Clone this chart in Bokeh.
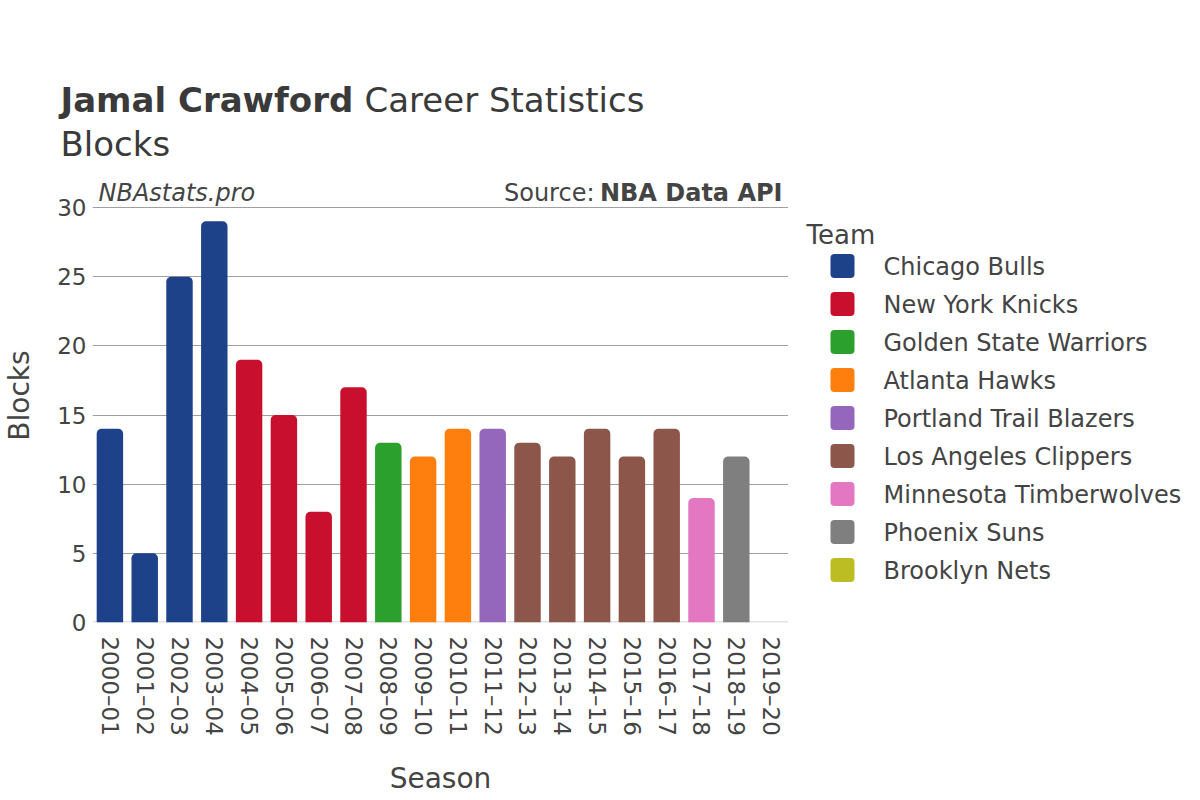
from bokeh.plotting import figure
from bokeh.models import Label, Span, FixedTicker, Range1d
from bokeh.layouts import column, row
from bokeh.core.properties import value
from bokeh.embed import file_html
from bokeh.resources import INLINE

seasons = ["2000–01", "2001–02", "2002–03", "2003–04", "2004–05", "2005–06", "2006–07",
           "2007–08", "2008–09", "2009–10", "2010–11", "2011–12", "2012–13", "2013–14",
           "2014–15", "2015–16", "2016–17", "2017–18", "2018–19", "2019–20"]
blocks = [14, 5, 25, 29, 19, 15, 8, 17, 13, 12, 14, 14, 13, 12, 14, 12, 14, 9, 12, 0]
season_team = ["Chicago Bulls"] * 4 + ["New York Knicks"] * 4 + ["Golden State Warriors"] + \
    ["Atlanta Hawks"] * 2 + ["Portland Trail Blazers"] + ["Los Angeles Clippers"] * 5 + \
    ["Minnesota Timberwolves", "Phoenix Suns", "Brooklyn Nets"]
teams = ["Chicago Bulls", "New York Knicks", "Golden State Warriors", "Atlanta Hawks",
         "Portland Trail Blazers", "Los Angeles Clippers", "Minnesota Timberwolves",
         "Phoenix Suns", "Brooklyn Nets"]
team_colors = ["#1D428A", "#C8102E", "#2CA02C", "#FF7F0E", "#9467BD", "#8C564B",
               "#E377C2", "#7F7F7F", "#BCBD22"]
y_ticks = [0, 5, 10, 15, 20, 25, 30]

FONT = "DejaVu Sans"
TXT = "#444444"
TITLE_C = "#3a3a3a"

# page geometry (px)
W, H = 1198, 798
HEAD_H = 168            # header strip height
FL, FR = 92, 788        # frame left / right
Y30, Y0 = 207, 622      # pixel rows of y=30 and y=0
YMAX = 30
PX_PER_Y = (Y0 - Y30) / YMAX
CAT_W = (FR - FL) / len(seasons)


def dx(px):
    return (px - FL) / CAT_W


def dy(py):
    return (Y0 - py) / PX_PER_Y


def bare(fig):
    fig.outline_line_color = None
    fig.xgrid.grid_line_color = None
    fig.ygrid.grid_line_color = None
    fig.background_fill_color = "white"
    fig.border_fill_color = "white"


# ---------------- header ----------------
head = figure(x_range=Range1d(0, W), y_range=Range1d(HEAD_H, 0),
              frame_width=W, frame_height=HEAD_H, min_border=0,
              x_axis_location=None, y_axis_location=None,
              output_backend="svg", toolbar_location=None)
bare(head)


def htext(fig, x, y, text, size, style="normal", align="left", color=TXT, baseline="alphabetic"):
    fig.text(x=[x], y=[y], text=[text], text_font=value(FONT), text_font_size=size,
             text_font_style=style, text_color=color, text_align=align,
             text_baseline=baseline)


htext(head, 60, 99, "Jamal Crawford", "34px", "bold", color=TITLE_C)
htext(head, 364, 99, "Career Statistics", "34px", color=TITLE_C)
htext(head, 60, 143, "Blocks", "34px", color=TITLE_C)

# ---------------- main chart ----------------
y_top = YMAX + (Y30 - HEAD_H) / PX_PER_Y
main_h = H - HEAD_H
p = figure(x_range=seasons, y_range=Range1d(0, y_top),
           frame_width=FR - FL, frame_height=Y0 - HEAD_H,
           min_border_left=FL, min_border_right=0, min_border_top=0,
           min_border_bottom=main_h - (Y0 - HEAD_H),
           output_backend="svg", toolbar_location=None)
p.outline_line_color = None
p.background_fill_color = "white"
p.border_fill_color = "white"

p.add_layout(Span(location=0, dimension="width", line_color="#E3E3E3", line_width=3,
                  level="underlay"))

for team, col in zip(teams, team_colors):
    xs = [s for s, t in zip(seasons, season_team) if t == team]
    ys = [b for b, t in zip(blocks, season_team) if t == team]
    p.vbar(x=xs, top=ys, width=0.76, color=col, line_color=None,
           border_radius=(5, 5, 0, 0))

p.xgrid.grid_line_color = None
p.ygrid.grid_line_color = "#A0A0A0"
p.ygrid.grid_line_width = 1
p.yaxis.ticker = FixedTicker(ticks=y_ticks)

for ax in (p.xaxis, p.yaxis):
    ax.axis_line_color = None
    ax.major_tick_line_color = None
    ax.minor_tick_line_color = None
    ax.major_label_text_font = FONT
    ax.major_label_text_font_size = "23px"
    ax.major_label_text_color = TXT
    ax.axis_label_text_font = FONT
    ax.axis_label_text_font_size = "28px"
    ax.axis_label_text_font_style = "normal"
    ax.axis_label_text_color = TXT

p.xaxis.axis_label = "Season"
p.yaxis.axis_label = "Blocks"
p.xaxis.major_label_orientation = -1.5708
p.xaxis.major_label_standoff = 8
p.yaxis.major_label_standoff = 0
p.xaxis.axis_label_standoff = 23
p.yaxis.axis_label_standoff = 18


def mlabel(text, xpx, ypx, style="normal", align="left"):
    p.add_layout(Label(x=dx(xpx), y=dy(ypx), text=text, text_font=FONT,
                       text_font_size="24px", text_font_style=style, text_color=TXT,
                       text_align=align, text_baseline="alphabetic"))


mlabel("NBAstats.pro", 98, 192, "italic")
mlabel("NBA Data API", 782, 192, "bold", "right")
mlabel("Source:", 594, 192, "normal", "right")

# ---------------- legend ----------------
leg_w = W - FR
leg = figure(x_range=Range1d(FR, W), y_range=Range1d(H, HEAD_H),
             frame_width=leg_w, frame_height=main_h, min_border=0,
             x_axis_location=None, y_axis_location=None,
             output_backend="svg", toolbar_location=None)
bare(leg)
htext(leg, 806, 234, "Team", "26px")
ROW0, ROW_STEP, SQ = 265.5, 38, 24
for i, (team, col) in enumerate(zip(teams, team_colors)):
    cy = ROW0 + ROW_STEP * i
    leg.quad(left=[830], right=[830 + SQ], top=[cy - SQ / 2], bottom=[cy + SQ / 2],
             color=col, line_color=None, border_radius=4)
    htext(leg, 883, cy + 1, team, "24px", baseline="middle")

layout = column(head, row(p, leg))
open("out.html", "w").write(file_html(layout, INLINE))
